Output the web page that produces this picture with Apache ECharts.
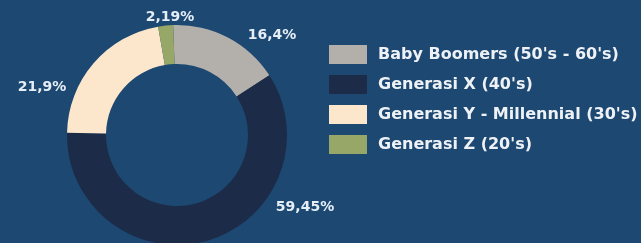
<!DOCTYPE html>
<html>
<head>
<meta charset="utf-8">
<script src="https://cdn.jsdelivr.net/npm/echarts@6/dist/echarts.min.js"></script>
<style>
html, body { margin: 0; padding: 0; background: #1d4872; }
#generasi { width: 641px; height: 243px; }
</style>
</head>
<body>
<div id="generasi"></div>
<script>
// data
var categories = ["Baby Boomers (50's - 60's)", "Generasi X (40's)", "Generasi Y - Millennial (30's)", "Generasi Z (20's)"];
var values = [16.4, 59.45, 21.9, 2.19];
var valueLabels = ['16,4%', '59,45%', '21,9%', '2,19%'];

window.onload = function(){
	generasi();
}
function generasi() {
	var myChart = echarts.init(document.getElementById('generasi'));
	var colors = ['#b3b0ab', '#1c2c48', '#fce6cc', '#96a768'];
	// label text centres, same order as categories
	var labelSpots = [ [272, 35], [305, 207], [42, 87], [170, 17] ];
	var data = [];
	for (var i = 0; i < categories.length; i++) {
		data.push({ name : categories[i], value : values[i] });
	}
	option = {
		backgroundColor : '#1d4872',
		color : colors,
		legend : {
			orient : 'vertical',
			left : 324,
			top : 40,
			itemWidth : 38,
			itemHeight : 19,
			itemGap : 11,
			icon : 'rect',
			data : categories,
			textStyle : {
				color : '#eef2f6',
				fontFamily : 'DejaVu Sans',
				fontWeight : 'bold',
				fontSize : 16,
				padding : [0, 0, 0, 6]
			}
		},
		series : [ {
			type : 'pie',
			center : [177, 135],
			radius : [71, 110],
			startAngle : 92,
			clockwise : true,
			silent : true,
			label : {
				show : true,
				position : 'outside',
				overflow : 'none',
				edgeDistance : 0,
				color : '#e6eef7',
				fontFamily : 'DejaVu Sans',
				fontWeight : 'bold',
				fontSize : 14,
				formatter : function(p) {
					return valueLabels[p.dataIndex];
				}
			},
			labelLine : {
				show : false
			},
			labelLayout : function(params) {
				var s = labelSpots[params.dataIndex];
				return {
					x : s[0],
					y : s[1],
					align : 'center',
					verticalAlign : 'middle'
				};
			},
			data : data
		} ]
	};
	myChart.setOption(option);
}
</script>
</body>
</html>
